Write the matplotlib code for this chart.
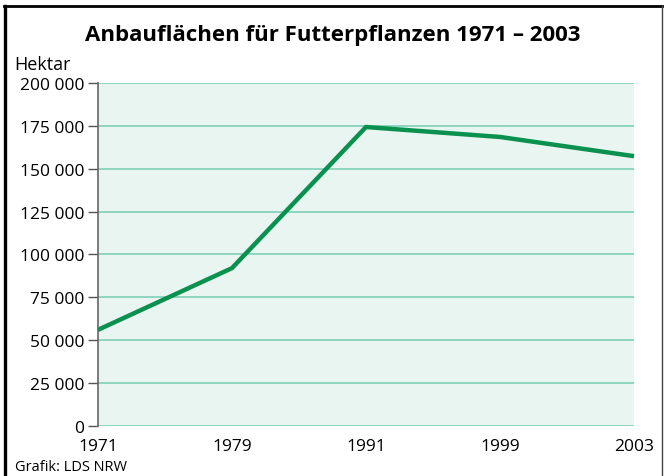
import matplotlib.pyplot as plt
from matplotlib.lines import Line2D

years = ["1971", "1979", "1991", "1999", "2003"]
hektar = [56000, 92000, 174300, 168500, 157300]
yticks = [0, 25000, 50000, 75000, 100000, 125000, 150000, 175000, 200000]
ytick_labels = ["0", "25 000", "50 000", "75 000", "100 000", "125 000",
                "150 000", "175 000", "200 000"]

plt.rcParams["font.family"] = ["Open Sans", "DejaVu Sans"]

fig = plt.figure(figsize=(6.66, 4.77), dpi=100)
ax = fig.add_axes([0.147, 0.105, 0.805, 0.719])
ax.set_facecolor("#e8f5f0")

x = range(len(years))
ax.plot(x, hektar, color="#0b914f", linewidth=3.2, solid_capstyle="butt",
        solid_joinstyle="miter", zorder=3, clip_on=False)

ax.set_xlim(0, len(years) - 1)
ax.set_ylim(0, 200000)
ax.set_yticks(yticks)
ax.set_yticklabels(ytick_labels, fontsize=12.5)
ax.set_xticks(list(x))
ax.set_xticklabels(years, fontsize=12.5)
ax.tick_params(axis="x", length=0, pad=9)
ax.tick_params(axis="y", length=7, width=1, color="#555555", pad=3)
ax.grid(axis="y", color="#7fcfb6", linewidth=1.2, zorder=1)
ax.set_axisbelow(True)

for side in ["top", "right", "bottom"]:
    ax.spines[side].set_visible(False)
ax.spines["left"].set_color("#666666")
ax.spines["left"].set_linewidth(1.2)

fig.text(0.5, 0.925, "Anbauflächen für Futterpflanzen 1971 – 2003",
         ha="center", va="center", fontsize=16, fontweight="bold")
fig.text(0.022, 0.864, "Hektar", ha="left", va="center", fontsize=13)
fig.text(0.022, 0.019, "Grafik: LDS NRW", ha="left", va="center", fontsize=10.5)

# frame: open at the bottom, as in the original graphic
fig.add_artist(Line2D([0.008, 0.008], [0.0, 0.986], transform=fig.transFigure,
                      color="black", linewidth=2.4))
fig.add_artist(Line2D([0.006, 0.994], [0.986, 0.986], transform=fig.transFigure,
                      color="black", linewidth=2))
fig.add_artist(Line2D([0.994, 0.994], [0.0, 0.986], transform=fig.transFigure,
                      color="#444444", linewidth=1))

fig.savefig("out.png", dpi=100)
